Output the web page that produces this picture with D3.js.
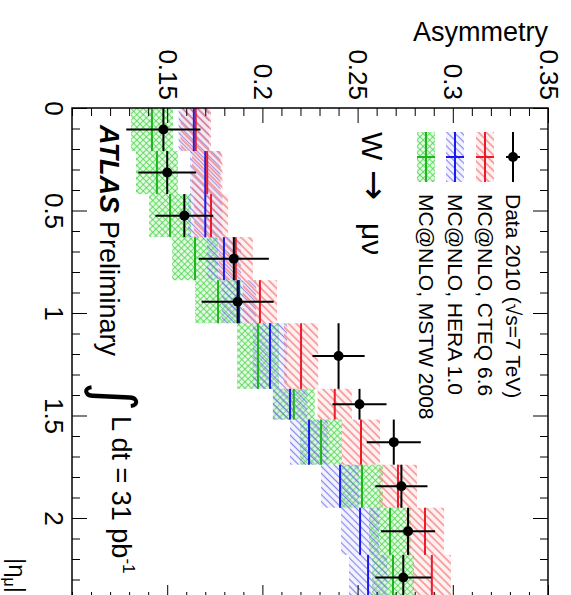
<!DOCTYPE html>
<html>
<head>
<meta charset="utf-8">
<script src="https://cdn.jsdelivr.net/npm/d3@7"></script>
<style>
  html, body { margin: 0; padding: 0; background: #fff; }
  svg { display: block; font-family: "Liberation Sans", Arial, Helvetica, sans-serif; }
</style>
</head>
<body>
<svg id="chart" width="571" height="595"></svg>
<script>
// |eta_mu| bin edges
const binEdges = [0, 0.21, 0.42, 0.63, 0.84, 1.05, 1.37, 1.52, 1.74, 1.95, 2.18, 2.4];

// Data 2010 muon charge asymmetry and total uncertainty
const dataAsym = [0.148, 0.150, 0.159, 0.185, 0.187, 0.240, 0.251, 0.269, 0.273, 0.2765, 0.274];
const dataErr  = [0.0195, 0.0152, 0.0152, 0.0184, 0.0189, 0.0137, 0.0142, 0.0142, 0.0137, 0.0142, 0.0147];

// MC@NLO predictions (central value, band half-width)
const cteqAsym = [0.165, 0.171, 0.173, 0.186, 0.1987, 0.2203, 0.238, 0.2518, 0.2712, 0.2854, 0.289];
const cteqErr  = [0.008, 0.008, 0.009, 0.009, 0.009, 0.009, 0.009, 0.010, 0.010, 0.010, 0.010];
const heraAsym = [0.164, 0.170, 0.170, 0.1798, 0.1877, 0.204, 0.2145, 0.2245, 0.2408, 0.2513, 0.2555];
const heraErr  = [0.008, 0.008, 0.009, 0.009, 0.009, 0.009, 0.009, 0.010, 0.010, 0.010, 0.010];
const mstwAsym = [0.142, 0.1446, 0.1515, 0.1646, 0.1767, 0.1977, 0.2165, 0.2308, 0.2523, 0.267, 0.2686];
const mstwErr  = [0.011, 0.011, 0.011, 0.012, 0.012, 0.011, 0.011, 0.011, 0.011, 0.011, 0.011];

// Axis ticks
const asymTicks = [0.15, 0.2, 0.25, 0.3, 0.35];
const asymTickLabels = ["0.15", "0.2", "0.25", "0.3", "0.35"];
const etaTicks = [0, 0.5, 1, 1.5, 2];
const etaTickLabels = ["0", "0.5", "1", "1.5", "2"];

// Legend entries
const legendLabels = ["Data 2010 (\u221As=7 TeV)", "MC@NLO, CTEQ 6.6", "MC@NLO, HERA 1.0", "MC@NLO, MSTW 2008"];

const svg = d3.select("#chart");

// Asymmetry runs left to right, |eta| runs top to bottom
const x = d3.scaleLinear().domain([0.1, 0.35]).range([72, 548]);
const y = d3.scaleLinear().domain([0, 2.4]).range([108, 600]);

const asymMinor = d3.range(0.10, 0.3501, 0.01).map(v => +v.toFixed(2)).filter(v => !asymTicks.includes(v));
const etaMinor = d3.range(0, 2.401, 0.1).map(v => +v.toFixed(1)).filter(v => !etaTicks.includes(v));

// hatch patterns
const defs = svg.append("defs");
function lineHatch(id, color, spacing, width, angle, bg) {
  const p = defs.append("pattern")
    .attr("id", id).attr("patternUnits", "userSpaceOnUse")
    .attr("width", spacing).attr("height", spacing)
    .attr("patternTransform", `rotate(${angle})`);
  if (bg) p.append("rect").attr("width", spacing).attr("height", spacing).attr("fill", bg);
  p.append("line").attr("x1", spacing / 2).attr("x2", spacing / 2)
    .attr("y1", 0).attr("y2", spacing)
    .attr("stroke", color).attr("stroke-width", width);
}
function crossHatch(id, color, spacing, width, bg) {
  const p = defs.append("pattern")
    .attr("id", id).attr("patternUnits", "userSpaceOnUse")
    .attr("width", spacing).attr("height", spacing)
    .attr("patternTransform", "rotate(45)");
  if (bg) p.append("rect").attr("width", spacing).attr("height", spacing).attr("fill", bg);
  p.append("line").attr("x1", spacing / 2).attr("x2", spacing / 2).attr("y1", 0).attr("y2", spacing)
    .attr("stroke", color).attr("stroke-width", width);
  p.append("line").attr("y1", spacing / 2).attr("y2", spacing / 2).attr("x1", 0).attr("x2", spacing)
    .attr("stroke", color).attr("stroke-width", width);
}
lineHatch("hatch-cteq", "rgba(240,90,90,0.75)", 5.5, 1.3, -45, "rgba(255,200,200,0.25)");
lineHatch("hatch-hera", "rgba(100,100,230,0.75)", 5, 1.2, -45, "rgba(200,200,255,0.2)");
crossHatch("hatch-mstw", "rgba(70,210,70,0.75)", 4.5, 1.1, "rgba(190,245,190,0.35)");

const series = [
  { name: "mstw", asym: mstwAsym, err: mstwErr, color: "#1fb51f", fill: "url(#hatch-mstw)" },
  { name: "hera", asym: heraAsym, err: heraErr, color: "#1a1aee", fill: "url(#hatch-hera)" },
  { name: "cteq", asym: cteqAsym, err: cteqErr, color: "#ee1a2a", fill: "url(#hatch-cteq)" }
];

const bins = binEdges.slice(0, -1).map((lo, i) => ({ lo, hi: binEdges[i + 1], i }));

const plot = svg.append("g");

// MC bands
series.forEach(s => {
  plot.append("g").attr("class", "band-" + s.name)
    .selectAll("rect").data(bins).join("rect")
    .attr("x", d => x(s.asym[d.i] - s.err[d.i]))
    .attr("width", d => x(s.asym[d.i] + s.err[d.i]) - x(s.asym[d.i] - s.err[d.i]))
    .attr("y", d => y(d.lo))
    .attr("height", d => y(d.hi) - y(d.lo))
    .attr("fill", s.fill);
});
// MC central values
series.forEach(s => {
  plot.append("g").attr("class", "line-" + s.name)
    .selectAll("line").data(bins).join("line")
    .attr("x1", d => x(s.asym[d.i])).attr("x2", d => x(s.asym[d.i]))
    .attr("y1", d => y(d.lo)).attr("y2", d => y(d.hi))
    .attr("stroke", s.color).attr("stroke-width", 2);
});

// Data points
const dg = plot.append("g").attr("class", "data");
dg.selectAll("line.eta").data(bins).join("line").attr("class", "eta")
  .attr("x1", d => x(dataAsym[d.i])).attr("x2", d => x(dataAsym[d.i]))
  .attr("y1", d => y(d.lo)).attr("y2", d => y(d.hi))
  .attr("stroke", "#000").attr("stroke-width", 2);
dg.selectAll("line.err").data(bins).join("line").attr("class", "err")
  .attr("x1", d => x(dataAsym[d.i] - dataErr[d.i])).attr("x2", d => x(dataAsym[d.i] + dataErr[d.i]))
  .attr("y1", d => y((d.lo + d.hi) / 2)).attr("y2", d => y((d.lo + d.hi) / 2))
  .attr("stroke", "#000").attr("stroke-width", 2);
dg.selectAll("circle").data(bins).join("circle")
  .attr("cx", d => x(dataAsym[d.i])).attr("cy", d => y((d.lo + d.hi) / 2))
  .attr("r", 5).attr("fill", "#000");

// Frame
svg.append("rect").attr("x", x(0.1)).attr("y", y(0))
  .attr("width", x(0.35) - x(0.1)).attr("height", y(2.4) - y(0))
  .attr("fill", "none").attr("stroke", "#000").attr("stroke-width", 1.5);

const FS = 26;

// Asymmetry axis (top edge) with rotated labels
const topAxis = svg.append("g").attr("transform", `translate(0,${y(0)})`)
  .call(d3.axisBottom(x).tickValues(asymTicks).tickSize(15)
    .tickFormat((d, i) => asymTickLabels[i]));
topAxis.select(".domain").remove();
topAxis.attr("font-size", FS).attr("font-family", null);
topAxis.selectAll(".tick text")
  .attr("y", null).attr("dy", null).attr("fill", "#000")
  .attr("transform", "translate(0,-8) rotate(90)")
  .attr("text-anchor", "end").attr("dominant-baseline", "central");
const topMinor = svg.append("g").attr("transform", `translate(0,${y(0)})`)
  .call(d3.axisBottom(x).tickValues(asymMinor).tickSize(8).tickFormat(""));
topMinor.select(".domain").remove();

// Asymmetry mirror ticks (bottom edge)
[[asymTicks, 15], [asymMinor, 8]].forEach(([vals, len]) => {
  const g = svg.append("g").attr("transform", `translate(0,${y(2.4)})`)
    .call(d3.axisTop(x).tickValues(vals).tickSize(len).tickFormat(""));
  g.select(".domain").remove();
});

// |eta| axis (left edge) with rotated labels
const leftAxis = svg.append("g").attr("transform", `translate(${x(0.1)},0)`)
  .call(d3.axisRight(y).tickValues(etaTicks).tickSize(15)
    .tickFormat((d, i) => etaTickLabels[i]));
leftAxis.select(".domain").remove();
leftAxis.attr("font-size", FS).attr("font-family", null);
leftAxis.selectAll(".tick text")
  .attr("x", null).attr("dy", null).attr("fill", "#000")
  .attr("transform", "translate(-8,0) rotate(90)")
  .attr("text-anchor", "middle").attr("dominant-baseline", "hanging");
const leftMinor = svg.append("g").attr("transform", `translate(${x(0.1)},0)`)
  .call(d3.axisRight(y).tickValues(etaMinor).tickSize(8).tickFormat(""));
leftMinor.select(".domain").remove();

// |eta| mirror ticks (right edge)
[[etaTicks, 15], [etaMinor, 8]].forEach(([vals, len]) => {
  const g = svg.append("g").attr("transform", `translate(${x(0.35)},0)`)
    .call(d3.axisLeft(y).tickValues(vals).tickSize(len).tickFormat(""));
  g.select(".domain").remove();
});

// Axis titles
svg.append("text").attr("x", x(0.35)).attr("y", 41)
  .attr("text-anchor", "end").attr("font-size", FS + 1).text("Asymmetry");

const etaTitle = svg.append("text")
  .attr("transform", `translate(9,593) rotate(90)`)
  .attr("text-anchor", "end").attr("font-size", 24);
etaTitle.append("tspan").text("|\u03B7");
etaTitle.append("tspan").attr("font-size", 16).attr("dy", 5).text("\u03BC");
etaTitle.append("tspan").attr("dy", -5).text("|");

// rotated text helper (reads top to bottom)
function rtext(px, py, size) {
  return svg.append("text")
    .attr("transform", `translate(${px},${py}) rotate(90)`)
    .attr("font-size", size);
}

// ATLAS Preliminary
const atl = rtext(100, 125, 27);
atl.append("tspan").attr("font-weight", "bold").attr("font-style", "italic").text("ATLAS");
atl.append("tspan").attr("dx", 8).text("Preliminary");

// Luminosity
rtext(96, 382, 56).attr("font-family", "DejaVu Sans").text("\u222B");
const lum = rtext(112, 416, 27);
lum.append("tspan").text("L dt = 31 pb");
lum.append("tspan").attr("font-size", 17).attr("dy", -11).text("-1");

// Process label
rtext(362, 132, 30).text("W");
rtext(362, 170, 36).attr("font-family", "DejaVu Sans").text("\u2192");
rtext(362, 223, 30).text("\u03BC\u03BD");

// Legend
const legX = [513, 485, 455, 426];
const legY0 = 132, legY1 = 182, legText = 194;
const lg = svg.append("g").attr("class", "legend");
// MC entries
series.slice().reverse().forEach((s, k) => {
  const cx = legX[k + 1];
  lg.append("rect").attr("x", cx - 9).attr("y", legY0).attr("width", 18).attr("height", legY1 - legY0)
    .attr("fill", s.fill);
  lg.append("line").attr("x1", cx).attr("x2", cx).attr("y1", legY0).attr("y2", legY1)
    .attr("stroke", s.color).attr("stroke-width", 2);
  lg.append("line").attr("x1", cx - 9).attr("x2", cx + 9).attr("y1", 157).attr("y2", 157)
    .attr("stroke", s.color).attr("stroke-width", 2);
});
// Data entry
lg.append("line").attr("x1", legX[0]).attr("x2", legX[0]).attr("y1", legY0).attr("y2", legY1)
  .attr("stroke", "#000").attr("stroke-width", 2);
lg.append("line").attr("x1", legX[0] - 7).attr("x2", legX[0] + 7).attr("y1", 157).attr("y2", 157)
  .attr("stroke", "#000").attr("stroke-width", 2);
lg.append("circle").attr("cx", legX[0]).attr("cy", 157).attr("r", 5).attr("fill", "#000");
legendLabels.forEach((t, k) => {
  svg.append("text")
    .attr("transform", `translate(${legX[k]},${legText}) rotate(90)`)
    .attr("font-size", 21).attr("dominant-baseline", "central")
    .text(t);
});
</script>
</body>
</html>
